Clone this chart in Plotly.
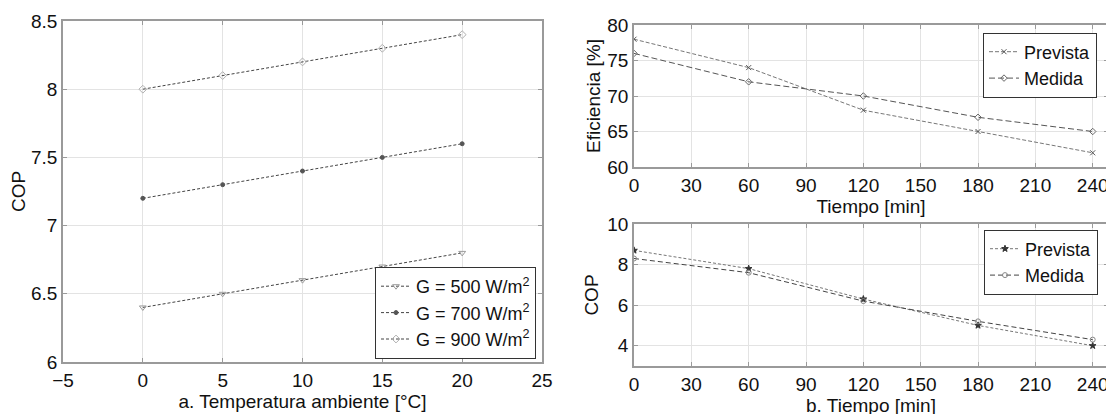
import plotly.graph_objects as go

# Left panel data
temp = [0, 5, 10, 15, 20]
cop_500 = [6.4, 6.5, 6.6, 6.7, 6.8]
cop_700 = [7.2, 7.3, 7.4, 7.5, 7.6]
cop_900 = [8.0, 8.1, 8.2, 8.3, 8.4]

# Right panels data
tiempo = [0, 60, 120, 180, 240]
efi_prevista = [78, 74, 68, 65, 62]
efi_medida = [76, 72, 70, 67, 65]
cop_prevista = [8.7, 7.8, 6.3, 5.0, 4.0]
cop_medida = [8.3, 7.6, 6.2, 5.2, 4.3]

FONT = "Liberation Sans, Arial, sans-serif"
W, H = 1114, 414
OFF = 8  # page body margin offset

def fx(px):
    return (px - OFF) / W

def fy(px):
    return 1 - (px - OFF) / H

fig = go.Figure()

def add(x, y, name, xa, ya, legend, mcolor, lcolor, symbol, dash, msize=6, lw=1):
    fig.add_trace(go.Scatter(
        x=x, y=y, name=name, mode="lines+markers", xaxis=xa, yaxis=ya, legend=legend,
        line=dict(color=lcolor, width=lw, dash=dash),
        marker=dict(symbol=symbol, size=msize, color=mcolor, line=dict(color=mcolor, width=1))))

add(temp, cop_500, "G = 500 W/m<sup>2</sup>", "x", "y", "legend", "#9a9a9a", "#444444", "triangle-down-open", "3px,2px")
add(temp, cop_700, "G = 700 W/m<sup>2</sup>", "x", "y", "legend", "#555555", "#444444", "circle", "3px,2px", msize=4)
add(temp, cop_900, "G = 900 W/m<sup>2</sup>", "x", "y", "legend", "#b0b0b0", "#444444", "diamond-open", "3px,2px")

add(tiempo, efi_prevista, "Prevista", "x2", "y2", "legend2", "#555555", "#777777", "x-thin-open", "4px,2px", msize=5)
add(tiempo, efi_medida, "Medida", "x2", "y2", "legend2", "#666666", "#555555", "diamond-open", "6px,3px", msize=5)

add(tiempo, cop_prevista, "Prevista", "x3", "y3", "legend3", "#333333", "#777777", "star", "3px,2px", msize=5)
add(tiempo, cop_medida, "Medida", "x3", "y3", "legend3", "#888888", "#444444", "circle-open", "5px,3px", msize=5)

def axis(size):
    return dict(showline=True, linecolor="#9a9a9a", linewidth=1.5, mirror="ticks",
                ticks="inside", ticklen=4, tickcolor="#9a9a9a", automargin=False,
                showgrid=True, gridcolor="#e3e3e3", gridwidth=1, zeroline=False,
                tickfont=dict(family=FONT, size=size, color="#111111"))

fig.update_layout(
    width=W, height=H, plot_bgcolor="white", paper_bgcolor="white",
    margin=dict(l=0, r=0, t=0, b=0, autoexpand=False),
    font=dict(family=FONT, color="#111111"),
    showlegend=True,
    xaxis=dict(domain=[fx(63), fx(542)], anchor="y", range=[-5, 25], dtick=5,
               title=dict(text="a. Temperatura ambiente [°C]", font=dict(size=19), standoff=0), **axis(19)),
    yaxis=dict(domain=[fy(362), fy(21)], anchor="x", range=[6, 8.5], dtick=0.5,
               title=dict(text="COP", font=dict(size=19), standoff=2), **axis(19)),
    xaxis2=dict(domain=[fx(634), fx(1108)], anchor="y2", range=[0, 248], dtick=30,
                title=dict(text="Tiempo [min]", font=dict(size=19), standoff=0), **axis(19)),
    yaxis2=dict(domain=[fy(167), fy(25)], anchor="x2", range=[60, 80], dtick=5,
                title=dict(text="Eficiencia [%]", font=dict(size=19), standoff=2), **axis(19)),
    xaxis3=dict(domain=[fx(634), fx(1108)], anchor="y3", range=[0, 248], dtick=30,
                title=dict(text="b. Tiempo [min]", font=dict(size=19), standoff=0), **axis(19)),
    yaxis3=dict(domain=[fy(366), fy(224)], anchor="x3", range=[3, 10], dtick=2,
                title=dict(text="COP", font=dict(size=19), standoff=4), **axis(19)),
    legend=dict(x=fx(536), y=fy(313), xanchor="right", yanchor="middle",
                bgcolor="white", bordercolor="#333333", borderwidth=1,
                font=dict(family=FONT, size=18), tracegroupgap=0, itemwidth=30),
    legend2=dict(x=fx(1097), y=fy(65), xanchor="right", yanchor="middle",
                 bgcolor="white", bordercolor="#333333", borderwidth=1,
                 font=dict(family=FONT, size=18), itemwidth=30),
    legend3=dict(x=fx(1098), y=fy(262), xanchor="right", yanchor="middle",
                 bgcolor="white", bordercolor="#333333", borderwidth=1,
                 font=dict(family=FONT, size=18), itemwidth=30),
)

fig.write_html("out.html")
